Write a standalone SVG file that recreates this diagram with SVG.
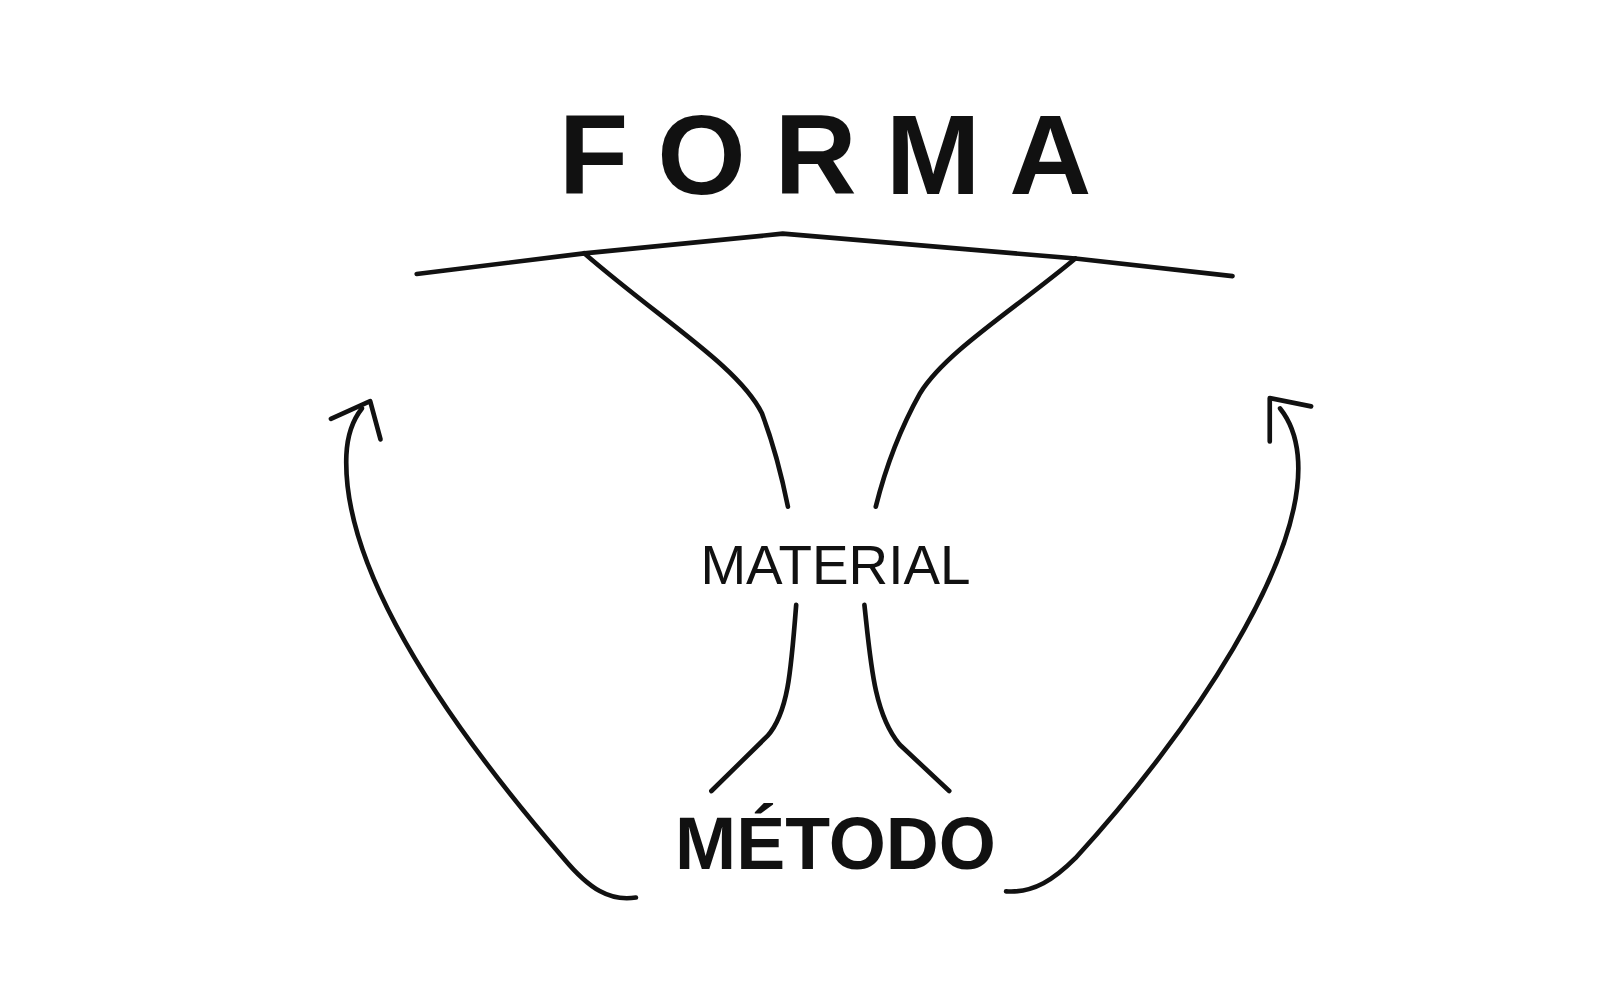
<svg xmlns="http://www.w3.org/2000/svg" width="1616" height="1003" viewBox="0 0 1616 1003">
<style>
.l{fill:none;stroke:#111;stroke-width:4.5;stroke-linecap:round;stroke-linejoin:round}
.t{font-family:"Liberation Sans",Arial,sans-serif;fill:#111;text-anchor:middle}
</style>
<rect width="1616" height="1003" fill="#fff"/>
<g transform="scale(1.034)">
<g id="forma"><text class="t" x="812" y="188" font-size="110" font-weight="bold" letter-spacing="28">FORMA</text></g>
<g id="material"><text class="t" x="808" y="565" font-size="53">MATERIAL</text></g>
<g id="metodo"><text class="t" x="808" y="840" font-size="71" font-weight="bold">MÉTODO</text></g>
<g id="connectors">
<path class="l" d="M403,265 L565,245 L757,226 L1040,250 L1192,267"/>
<path class="l" d="M565,245 C640,310 715,355 737,400 Q752,440 762,490"/>
<path class="l" d="M1040,250 C980,300 915,340 890,380 Q862,430 847,490"/>
<path class="l" d="M770,585 C765,650 762,690 742,712 L688,765"/>
<path class="l" d="M836,585 C842,640 845,690 870,720 L918,765"/>
<path class="l" d="M615,868 C590,872 570,860 545,830 C450,720 330,560 335,440 C336,418 342,405 350,395"/>
<path class="l" d="M320,405 L358,388 L368,425"/>
<path class="l" d="M973,862 C1000,864 1020,850 1040,830 C1150,710 1265,540 1255,440 C1253,420 1246,405 1238,395"/>
<path class="l" d="M1228,427 L1228,385 L1268,393"/>
</g>
</g>
</svg>
